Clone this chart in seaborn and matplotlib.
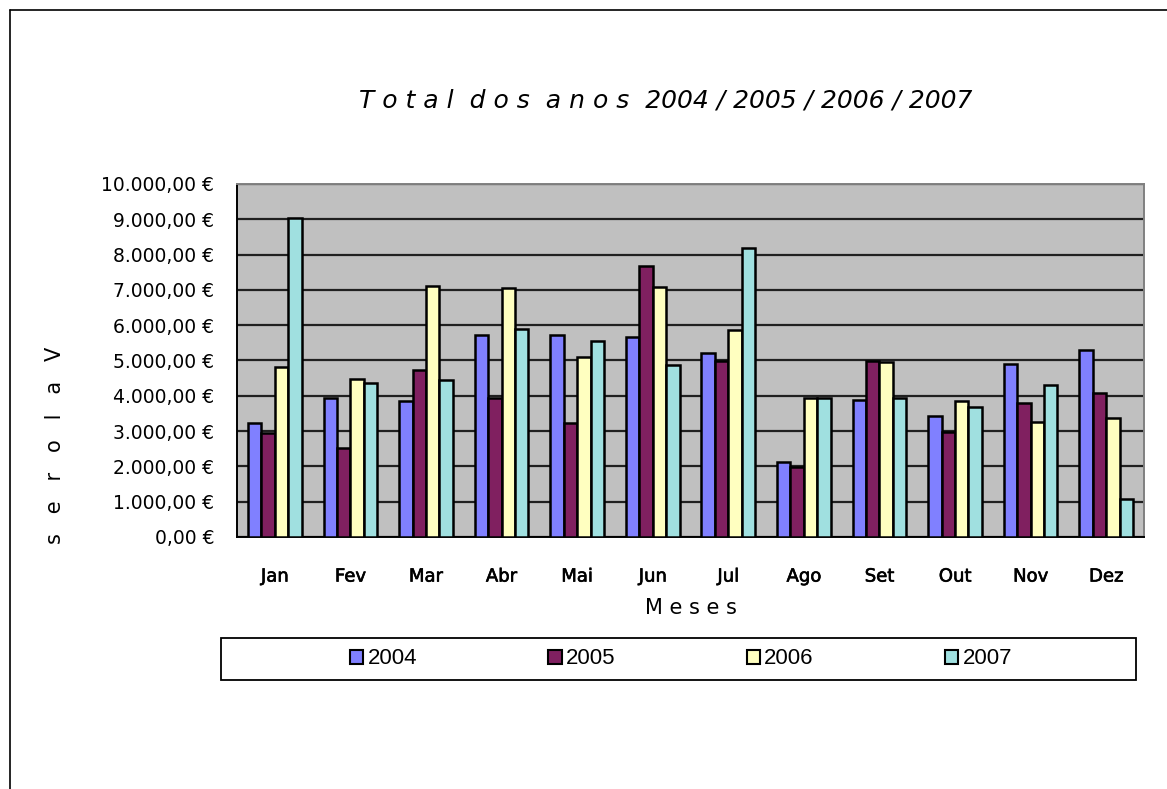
#!/usr/bin/env python3
"""Monthly totals per year, grouped bar chart (Excel-style)."""

import numpy as np
import pandas as pd
import matplotlib
matplotlib.use('Agg')
import matplotlib.pyplot as plt
import matplotlib.patheffects as pe
from matplotlib.patches import Rectangle
from matplotlib.lines import Line2D
import seaborn as sns

# data (euros)
months = ['Jan', 'Fev', 'Mar', 'Abr', 'Mai', 'Jun', 'Jul', 'Ago', 'Set', 'Out', 'Nov', 'Dez']
years = ['2004', '2005', '2006', '2007']
v2004 = [3240, 3930, 3850, 5710, 5710, 5670, 5220, 2130, 3890, 3440, 4890, 5300]
v2005 = [2940, 2530, 4730, 3930, 3240, 7690, 4990, 1990, 4990, 2970, 3790, 4090]
v2006 = [4810, 4480, 7110, 7050, 5110, 7080, 5860, 3950, 4970, 3850, 3270, 3360]
v2007 = [9030, 4350, 4460, 5900, 5560, 4870, 8180, 3930, 3950, 3690, 4310, 1070]
colors = ['#8080FF', '#802060', '#FFFFC0', '#A0E0E0']

yticks = list(range(0, 10001, 1000))


def euro(v):
    s = f"{v:,.2f}".replace(',', 'X').replace('.', ',').replace('X', '.')
    return s + ' €'


def main():
    df = pd.DataFrame({'Mes': months * 4,
                       'Ano': np.repeat(years, len(months)),
                       'Valor': v2004 + v2005 + v2006 + v2007})

    sns.set_theme(style='white')
    plt.rcParams['font.family'] = ['DejaVu Sans']
    for key in ['text.color', 'axes.labelcolor', 'xtick.color', 'ytick.color']:
        plt.rcParams[key] = 'black'

    fig = plt.figure(figsize=(11.67, 7.89), dpi=100)
    ax = fig.add_axes([0.2031, 0.3194, 0.7772, 0.4474])
    ax.set_facecolor('#C0C0C0')

    sns.barplot(data=df, x='Mes', y='Valor', hue='Ano', palette=colors,
                width=0.71, edgecolor='black', linewidth=1.8, saturation=1,
                legend=False, ax=ax, zorder=3)

    ax.set_ylim(0, 10000)
    ax.set_xlim(-0.5, len(months) - 0.5)
    ax.set_yticks(yticks)
    ax.set_yticklabels([euro(v) for v in yticks], fontsize=13.5)
    ax.yaxis.grid(True, color='#202020', linewidth=1.6, zorder=1)
    ax.set_axisbelow(True)
    ax.tick_params(axis='y', direction='inout', length=9, width=1.2, color='black', pad=12)
    ax.set_xticks(range(len(months)))
    ax.set_xticklabels(months, fontsize=13)
    for lbl in ax.get_xticklabels():
        lbl.set_path_effects([pe.withStroke(linewidth=0.45, foreground='black')])
    ax.tick_params(axis='x', length=0, pad=22)
    ax.set_xticks(np.arange(-0.5, len(months)), minor=True)
    ax.tick_params(axis='x', which='minor', direction='out', length=7, width=1.2, color='black')
    for side in ['left', 'bottom']:
        ax.spines[side].set_color('black')
        ax.spines[side].set_linewidth(1.4)
    for side in ['top', 'right']:
        ax.spines[side].set_color('#808080')
        ax.spines[side].set_linewidth(1.4)

    ax.set_xlabel('M e s e s', fontsize=15, labelpad=9)
    ax.set_ylabel('')
    fig.text(55 / 1167, 1 - 445 / 789, 's   e   r   o   l   a   V', rotation=90,
             fontsize=15, ha='center', va='center')

    fig.text(666 / 1167, 1 - 100 / 789,
             'T o t a l  d o s  a n o s  2004 / 2005 / 2006 / 2007',
             fontsize=18, style='italic', ha='center', va='center')

    # legend box
    fig.add_artist(Rectangle((221 / 1167, 1 - 680 / 789), 915 / 1167, 42 / 789,
                             transform=fig.transFigure, facecolor='white',
                             edgecolor='black', linewidth=1.3))
    handles = [Rectangle((0, 0), 1, 1, facecolor=c, edgecolor='black', linewidth=1.5)
               for c in colors]
    fig.legend(handles, years, loc='center', bbox_to_anchor=(681 / 1167, 1 - 659 / 789),
               ncol=4, frameon=False, handlelength=0.6, handleheight=0.6,
               handletextpad=0.2, columnspacing=5.9,
               prop={'family': 'Liberation Sans', 'size': 16})

    # outer chart frame (top and left edges visible)
    fig.add_artist(Line2D([10 / 1167, 1.0], [1 - 10 / 789] * 2, transform=fig.transFigure,
                          color='black', linewidth=1.2))
    fig.add_artist(Line2D([10 / 1167] * 2, [0, 1 - 10 / 789], transform=fig.transFigure,
                          color='black', linewidth=1.2))

    fig.savefig('out.png', dpi=100, facecolor='white')
    plt.close(fig)


if __name__ == "__main__":
    main()
